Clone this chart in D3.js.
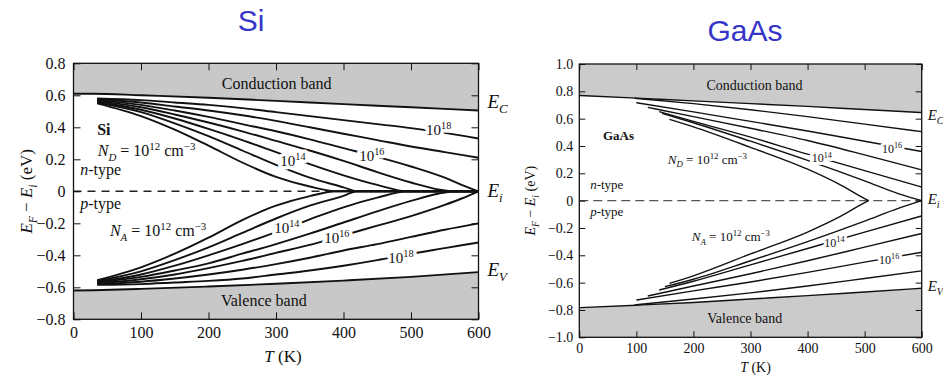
<!DOCTYPE html>
<html>
<head>
<meta charset="utf-8">
<script src="https://cdn.jsdelivr.net/npm/d3@7"></script>
<style>
  body { margin: 0; background: #fff; }
  svg { display: block; }
</style>
</head>
<body>
<svg id="chart" width="943" height="378"></svg>
<script>
// ---- data: [T (K), EF - Ei (eV)] ----
var tTicks = [0, 100, 200, 300, 400, 500, 600];
var siYTicks = [-0.8, -0.6, -0.4, -0.2, 0, 0.2, 0.4, 0.6, 0.8];
var gaYTicks = [-1.0, -0.8, -0.6, -0.4, -0.2, 0, 0.2, 0.4, 0.6, 0.8, 1.0];

// Si band edges
var siEc = [[0, 0.61], [30, 0.61], [100, 0.6], [200, 0.585], [300, 0.565], [400, 0.545], [500, 0.525], [600, 0.505]];
var siEv = [[0, -0.62], [30, -0.618], [100, -0.61], [200, -0.595], [300, -0.578], [400, -0.558], [500, -0.535], [600, -0.505]];

// Si n-type, ND = 1e12 ... 1e18
var siN12 = [[35, 0.55], [100, 0.47], [150, 0.385], [200, 0.285], [250, 0.18], [300, 0.09], [350, 0.03], [390, 0], [600, 0]];
var siN13 = [[35, 0.555], [100, 0.495], [150, 0.425], [200, 0.345], [250, 0.255], [300, 0.165], [350, 0.085], [400, 0.025], [420, 0], [600, 0]];
var siN14 = [[35, 0.56], [100, 0.51], [150, 0.455], [200, 0.39], [250, 0.32], [300, 0.245], [350, 0.17], [400, 0.1], [450, 0.04], [495, 0], [600, 0]];
var siN15 = [[35, 0.565], [100, 0.525], [150, 0.48], [200, 0.43], [250, 0.375], [300, 0.315], [350, 0.255], [400, 0.19], [450, 0.12], [500, 0.055], [540, 0.012], [567, 0], [600, 0]];
var siN16 = [[35, 0.57], [100, 0.54], [150, 0.505], [200, 0.465], [250, 0.42], [300, 0.375], [350, 0.325], [400, 0.27], [450, 0.215], [500, 0.155], [550, 0.085], [575, 0.04], [600, 0]];
var siN17 = [[35, 0.575], [100, 0.555], [150, 0.53], [200, 0.505], [250, 0.475], [300, 0.44], [350, 0.4], [400, 0.36], [450, 0.32], [500, 0.28], [550, 0.245], [600, 0.21]];
var siN18 = [[35, 0.58], [100, 0.57], [150, 0.555], [200, 0.54], [250, 0.52], [300, 0.495], [350, 0.47], [400, 0.445], [450, 0.42], [500, 0.395], [550, 0.365], [600, 0.33]];

// Si p-type, NA = 1e12 ... 1e18
var siP12 = [[35, -0.555], [100, -0.475], [150, -0.39], [200, -0.29], [250, -0.18], [300, -0.09], [350, -0.03], [390, 0], [600, 0]];
var siP13 = [[35, -0.56], [100, -0.5], [150, -0.43], [200, -0.35], [250, -0.26], [300, -0.17], [350, -0.09], [400, -0.028], [420, 0], [600, 0]];
var siP14 = [[35, -0.565], [100, -0.52], [150, -0.465], [200, -0.4], [250, -0.33], [300, -0.255], [350, -0.175], [400, -0.1], [450, -0.04], [495, 0], [600, 0]];
var siP15 = [[35, -0.57], [100, -0.535], [150, -0.495], [200, -0.45], [250, -0.39], [300, -0.33], [350, -0.265], [400, -0.195], [450, -0.125], [500, -0.06], [540, -0.015], [567, 0], [600, 0]];
var siP16 = [[35, -0.575], [100, -0.55], [150, -0.52], [200, -0.48], [250, -0.435], [300, -0.385], [350, -0.335], [400, -0.275], [450, -0.215], [500, -0.155], [550, -0.085], [575, -0.045], [600, 0]];
var siP17 = [[35, -0.58], [100, -0.565], [150, -0.545], [200, -0.52], [250, -0.49], [300, -0.455], [350, -0.415], [400, -0.37], [450, -0.33], [500, -0.285], [550, -0.24], [600, -0.2]];
var siP18 = [[35, -0.585], [100, -0.58], [150, -0.57], [200, -0.56], [250, -0.545], [300, -0.52], [350, -0.495], [400, -0.465], [450, -0.43], [500, -0.39], [550, -0.355], [600, -0.32]];

// GaAs band edges
var gaEc = [[0, 0.77], [100, 0.75], [200, 0.73], [300, 0.71], [400, 0.69], [500, 0.667], [600, 0.645]];
var gaEv = [[0, -0.783], [100, -0.765], [200, -0.745], [300, -0.72], [400, -0.695], [500, -0.668], [600, -0.641]];

// GaAs n-type, ND = 1e12 ... 1e17
var gaN12 = [[158, 0.595], [200, 0.54], [300, 0.39], [400, 0.23], [460, 0.11], [500, 0.015], [507, 0]];
var gaN13 = [[145, 0.639], [200, 0.57], [300, 0.435], [400, 0.295], [500, 0.145], [560, 0.05], [600, 0]];
var gaN14 = [[140, 0.651], [200, 0.58], [300, 0.465], [400, 0.34], [500, 0.22], [600, 0.1]];
var gaN15 = [[120, 0.683], [200, 0.615], [300, 0.53], [400, 0.44], [500, 0.335], [600, 0.225]];
var gaN16 = [[100, 0.717], [200, 0.65], [300, 0.58], [400, 0.51], [500, 0.435], [600, 0.36]];
var gaN17 = [[97, 0.749], [200, 0.71], [300, 0.665], [400, 0.615], [500, 0.56], [600, 0.505]];

// GaAs p-type, NA = 1e12 ... 1e17
var gaP12 = [[158, -0.605], [200, -0.55], [300, -0.39], [400, -0.23], [460, -0.11], [500, -0.015], [507, 0]];
var gaP13 = [[150, -0.629], [200, -0.575], [300, -0.44], [400, -0.3], [500, -0.15], [560, -0.055], [600, 0]];
var gaP14 = [[140, -0.654], [200, -0.59], [300, -0.47], [400, -0.35], [500, -0.23], [600, -0.112]];
var gaP15 = [[120, -0.698], [200, -0.625], [300, -0.535], [400, -0.44], [500, -0.34], [600, -0.24]];
var gaP16 = [[100, -0.727], [200, -0.66], [300, -0.595], [400, -0.525], [500, -0.45], [600, -0.378]];
var gaP17 = [[97, -0.763], [200, -0.72], [300, -0.675], [400, -0.625], [500, -0.57], [600, -0.514]];

var serif = '"Liberation Serif", "Times New Roman", serif';
var svg = d3.select("#chart");

// text with italic / sub / sup pieces: [string, flags] flags: i italic, _ sub, ^ sup
function rich(sel, px, py, parts, o) {
    if (o.halo) {
        // white copy underneath cuts a gap in the curve
        rich(sel, px, py, parts, { size: o.size, anchor: o.anchor, bold: o.bold, stroke: o.halo });
    }
    var fs = o.size;
    var t = sel.append("text")
        .attr("x", px).attr("y", py)
        .attr("font-family", serif)
        .attr("font-size", fs)
        .attr("fill", "#111")
        .attr("text-anchor", o.anchor || "start");
    if (o.bold) t.attr("font-weight", "bold");
    if (o.stroke) {
        t.attr("fill", "#fff").attr("stroke", "#fff").attr("stroke-width", o.stroke)
            .attr("stroke-linejoin", "round");
    }
    var cur = 0;
    parts.forEach(function(p) {
        var f = p[1] || "";
        var off = f.indexOf("^") >= 0 ? -0.4 * fs : (f.indexOf("_") >= 0 ? 0.28 * fs : 0);
        var ts = t.append("tspan").attr("dy", off - cur).text(p[0]);
        if (off !== 0) ts.attr("font-size", fs * 0.68);
        if (f.indexOf("i") >= 0) ts.attr("font-style", "italic");
        cur = off;
    });
    return t;
}

function fmtY(d) {
    if (Math.abs(d) < 1e-9) return "0";
    return (d < 0 ? "\u2212" : "") + Math.abs(d).toFixed(1);
}

function drawPanel(p) {
    var x = d3.scaleLinear().domain([0, 600]).range([p.left, p.right]);
    var y = d3.scaleLinear().domain([p.ymin, p.ymax]).range([p.bottom, p.top]);
    var g = svg.append("g");

    // gray band regions
    var upper = d3.area().x(function(d) { return x(d[0]); }).y0(y(p.ymax)).y1(function(d) { return y(d[1]); });
    var lower = d3.area().x(function(d) { return x(d[0]); }).y0(y(p.ymin)).y1(function(d) { return y(d[1]); });
    g.append("path").datum(p.ec).attr("d", upper).attr("fill", p.gray);
    g.append("path").datum(p.ev).attr("d", lower).attr("fill", p.gray);

    // intrinsic level (dashed)
    g.append("line")
        .attr("x1", x(0)).attr("x2", x(600))
        .attr("y1", y(0)).attr("y2", y(0))
        .attr("stroke", p.dashColor).attr("stroke-width", p.dashWidth)
        .attr("stroke-dasharray", p.dash);

    var line = d3.line()
        .x(function(d) { return x(d[0]); })
        .y(function(d) { return y(d[1]); })
        .curve(d3.curveMonotoneX);

    p.curves.concat([p.ec, p.ev]).forEach(function(c) {
        g.append("path").datum(c).attr("d", line)
            .style("fill", "none").style("stroke", "#111")
            .style("stroke-width", p.lw).style("stroke-linejoin", "round");
    });

    // axes, ticks pointing inward on all four sides
    function tidy(a) {
        a.select(".domain").remove();
        a.attr("font-family", serif).attr("font-size", p.fs);
        a.selectAll("text").attr("fill", "#111");
        a.selectAll("line").attr("stroke", "#111");
    }
    g.append("g").attr("transform", "translate(0," + p.bottom + ")")
        .call(d3.axisBottom(x).tickValues(tTicks).tickFormat(d3.format("d"))
            .tickSizeInner(-p.tick).tickSizeOuter(0).tickPadding(p.padX))
        .call(tidy);
    g.append("g").attr("transform", "translate(0," + p.top + ")")
        .call(d3.axisTop(x).tickValues(tTicks).tickFormat("")
            .tickSizeInner(-p.tick).tickSizeOuter(0))
        .call(tidy);
    g.append("g").attr("transform", "translate(" + p.left + ",0)")
        .call(d3.axisLeft(y).tickValues(p.yTicks).tickFormat(fmtY)
            .tickSizeInner(-p.tick).tickSizeOuter(0).tickPadding(p.padY))
        .call(tidy);
    g.append("g").attr("transform", "translate(" + p.right + ",0)")
        .call(d3.axisRight(y).tickValues(p.yTicks).tickFormat("")
            .tickSizeInner(-p.tick).tickSizeOuter(0))
        .call(tidy);

    // frame
    g.append("rect")
        .attr("x", p.left).attr("y", p.top)
        .attr("width", p.right - p.left).attr("height", p.bottom - p.top)
        .attr("fill", "none").attr("stroke", "#111").attr("stroke-width", 1.3);

    // axis titles
    rich(g, (p.left + p.right) / 2 + p.xTitleShift, p.xTitleY, [["T", "i"], [" (K)"]], { size: p.titleFs, anchor: "middle" });
    var yt = g.append("g").attr("transform", "translate(" + p.yTitleX + "," + y(0) + ") rotate(-90)");
    rich(yt, 0, 0, [["E", "i"], ["F", "i_"], [" \u2212 "], ["E", "i"], ["i", "i_"], [" (eV)"]], { size: p.titleFs, anchor: "middle" });

    // right-hand level names
    rich(g, p.right + p.eGap, y(p.eLabelY[0]), [["E", "i"], ["C", "i_"]], { size: p.eFs });
    rich(g, p.right + p.eGap, y(p.eLabelY[1]), [["E", "i"], ["i", "i_"]], { size: p.eFs });
    rich(g, p.right + p.eGap, y(p.eLabelY[2]), [["E", "i"], ["V", "i_"]], { size: p.eFs });

    // text inside the plot, positioned in data units
    p.texts.forEach(function(t) {
        rich(g, x(t.at[0]), y(t.at[1]), t.parts, { size: t.size, anchor: t.anchor, bold: t.bold, halo: t.halo });
    });

    // chart title
    svg.append("text")
        .attr("x", p.headX).attr("y", p.headY)
        .attr("text-anchor", "middle")
        .attr("font-family", '"Liberation Sans", Arial, sans-serif')
        .attr("font-size", 30)
        .attr("fill", "#3535c8")
        .text(p.head);
}

function conc(e) { return [["10"], [e, "^"]]; }
var nD12 = [["N", "i"], ["D", "i_"], [" = 10"], ["12", "^"], [" cm"], ["\u22123", "^"]];
var nA12 = [["N", "i"], ["A", "i_"], [" = 10"], ["12", "^"], [" cm"], ["\u22123", "^"]];
var nType = [["n", "i"], ["-type"]];
var pType = [["p", "i"], ["-type"]];

drawPanel({
    head: "Si", headX: 251, headY: 31,
    left: 73.5, right: 478.5, top: 63.3, bottom: 319.3,
    ymin: -0.8, ymax: 0.8, yTicks: siYTicks,
    ec: siEc, ev: siEv,
    curves: [siN12, siN13, siN14, siN15, siN16, siN17, siN18, siP12, siP13, siP14, siP15, siP16, siP17, siP18],
    gray: "#c8c8c8", lw: 1.9,
    dash: "8,6", dashColor: "#222", dashWidth: 1.4,
    fs: 16, tick: 7, padX: 7, padY: 8,
    titleFs: 17, xTitleY: 362, xTitleShift: 7, yTitleX: 32,
    eFs: 19, eGap: 9, eLabelY: [0.52, -0.035, -0.53],
    texts: [
        { at: [301, 0.64], parts: [["Conduction band"]], size: 16, anchor: "middle" },
        { at: [282, -0.717], parts: [["Valence band"]], size: 16, anchor: "middle" },
        { at: [35, 0.35], parts: [["Si"]], size: 16, bold: true },
        { at: [36, 0.22], parts: nD12, size: 16 },
        { at: [10, 0.1], parts: nType, size: 16 },
        { at: [10, -0.11], parts: pType, size: 16 },
        { at: [54, -0.28], parts: nA12, size: 16 },
        { at: [325, 0.158], parts: conc("14"), size: 15, anchor: "middle", halo: 7 },
        { at: [442, 0.19], parts: conc("16"), size: 15, anchor: "middle", halo: 7 },
        { at: [541, 0.35], parts: conc("18"), size: 15, anchor: "middle", halo: 7 },
        { at: [316, -0.26], parts: conc("14"), size: 15, anchor: "middle", halo: 7 },
        { at: [390, -0.322], parts: conc("16"), size: 15, anchor: "middle", halo: 7 },
        { at: [485, -0.447], parts: conc("18"), size: 15, anchor: "middle", halo: 7 }
    ]
});

drawPanel({
    head: "GaAs", headX: 745, headY: 41,
    left: 579.3, right: 921.7, top: 64, bottom: 337.3,
    ymin: -1.0, ymax: 1.0, yTicks: gaYTicks,
    ec: gaEc, ev: gaEv,
    curves: [gaN12, gaN13, gaN14, gaN15, gaN16, gaN17, gaP12, gaP13, gaP14, gaP15, gaP16, gaP17],
    gray: "#cbcbcb", lw: 1.4,
    dash: "9,5", dashColor: "#555", dashWidth: 1.3,
    fs: 14, tick: 6, padX: 6, padY: 6,
    titleFs: 14, xTitleY: 372, xTitleShift: 5, yTitleX: 535,
    eFs: 15, eGap: 6, eLabelY: [0.59, -0.024, -0.66],
    texts: [
        { at: [307, 0.81], parts: [["Conduction band"]], size: 14, anchor: "middle" },
        { at: [290, -0.895], parts: [["Valence band"]], size: 14, anchor: "middle" },
        { at: [41.5, 0.444], parts: [["GaAs"]], size: 13, bold: true },
        { at: [155, 0.27], parts: nD12, size: 13 },
        { at: [19, 0.086], parts: nType, size: 13 },
        { at: [19, -0.112], parts: pType, size: 13 },
        { at: [197, -0.295], parts: nA12, size: 13 },
        { at: [425, 0.28], parts: conc("14"), size: 12, anchor: "middle", halo: 6 },
        { at: [548, 0.35], parts: conc("16"), size: 12, anchor: "middle", halo: 6 },
        { at: [447, -0.34], parts: conc("14"), size: 12, anchor: "middle", halo: 6 },
        { at: [543, -0.46], parts: conc("16"), size: 12, anchor: "middle", halo: 6 }
    ]
});
</script>
</body>
</html>
